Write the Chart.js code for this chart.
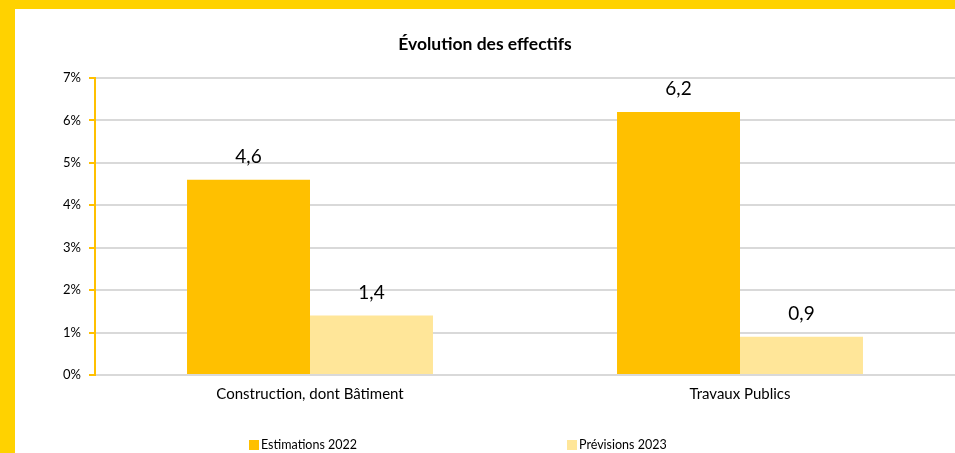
<!DOCTYPE html>
<html><head><meta charset="utf-8">
<script src="https://cdn.jsdelivr.net/npm/chart.js@4"></script>
<style>
html,body{margin:0;padding:0;background:#FFD200;}
#wrap{position:absolute;left:15px;top:9px;width:940px;height:444px;background:#fff;}
canvas{display:block;}
</style></head><body>
<div id="wrap"><canvas id="c" width="940" height="444"></canvas></div>
<script>
const categories = ["Construction, dont Bâtiment", "Travaux Publics"];
const seriesNames = ["Estimations 2022", "Prévisions 2023"];
const estimations2022 = [4.6, 6.2];
const previsions2023 = [1.4, 0.9];
const yTicks = [0, 1, 2, 3, 4, 5, 6, 7];
const colors = ["#FFC000", "#FFE699"];
const FONT = "Lato, 'Open Sans', sans-serif";

const labelPlugin = {
  id: 'valueLabels',
  afterDatasetsDraw(chart) {
    const ctx = chart.ctx;
    ctx.save();
    ctx.font = "19px " + FONT;
    ctx.fillStyle = "#000";
    ctx.textAlign = "center";
    ctx.textBaseline = "alphabetic";
    chart.data.datasets.forEach((ds, i) => {
      chart.getDatasetMeta(i).data.forEach((bar, j) => {
        const v = ds.data[j];
        ctx.fillText(v.toFixed(1).replace('.', ','), bar.x, bar.y - 17);
      });
    });
    ctx.restore();
  }
};

const legendPlugin = {
  id: 'customLegend',
  afterDraw(chart) {
    const ctx = chart.ctx;
    const starts = [234, 552];
    const y = 436;
    ctx.save();
    ctx.font = "12.5px " + FONT;
    ctx.textBaseline = "middle";
    ctx.textAlign = "left";
    chart.data.datasets.forEach((ds, i) => {
      ctx.fillStyle = ds.backgroundColor;
      ctx.fillRect(starts[i], y - 5, 10, 10);
      ctx.fillStyle = "#000";
      ctx.fillText(ds.label, starts[i] + 12, y);
    });
    ctx.restore();
  }
};

new Chart(document.getElementById('c'), {
  type: 'bar',
  data: {
    labels: categories,
    datasets: [
      { label: seriesNames[0], data: estimations2022, backgroundColor: colors[0] },
      { label: seriesNames[1], data: previsions2023, backgroundColor: colors[1] }
    ]
  },
  options: {
    responsive: false,
    animation: false,
    layout: { padding: { top: 0, right: 0, bottom: 48, left: 0 } },
    datasets: { bar: { barPercentage: 1.0, categoryPercentage: 0.572 } },
    plugins: {
      legend: { display: false },
      tooltip: { enabled: false },
      title: {
        display: true,
        text: "Évolution des effectifs",
        color: "#000",
        font: { family: FONT, size: 17.5, weight: 'bold' },
        padding: { top: 25, bottom: 23 }
      }
    },
    scales: {
      x: {
        grid: { display: false },
        border: { color: "#D9D9D9", width: 2 },
        ticks: { color: "#000", font: { family: FONT, size: 15 }, padding: 2 }
      },
      y: {
        min: 0, max: 7,
        afterFit(scale) { scale.width = 80; },
        afterBuildTicks(scale) { scale.ticks = yTicks.map(v => ({ value: v })); },
        grid: { color: "#D9D9D9", lineWidth: 2, tickColor: "#FFC000", tickLength: 6, tickWidth: 2 },
        border: { color: "#FFC000", width: 2 },
        ticks: {
          color: "#000", font: { family: FONT, size: 13 }, padding: 8,
          callback: v => v + "%"
        }
      }
    }
  },
  plugins: [labelPlugin, legendPlugin]
});
</script>
</body></html>
